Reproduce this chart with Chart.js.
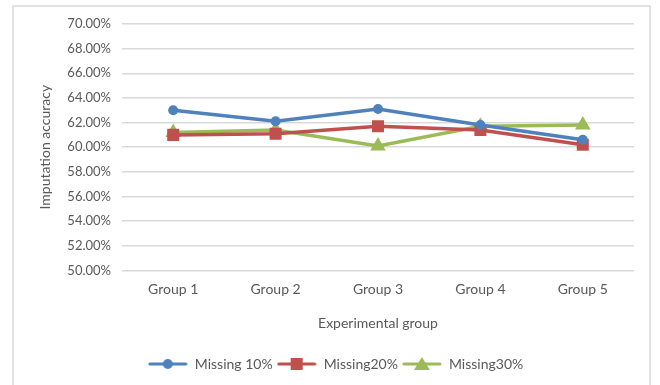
<!DOCTYPE html>
<html>
<head>
<meta charset="utf-8">
<script src="https://cdn.jsdelivr.net/npm/chart.js@4"></script>
<style>
    html, body { margin: 0; padding: 0; background: #ffffff; }
    #wrap { position: relative; width: 660px; height: 385px; }
</style>
</head>
<body>
<div id="wrap"><canvas id="chart" width="660" height="385"></canvas></div>
<script>
// Data
const groups = ['Group 1', 'Group 2', 'Group 3', 'Group 4', 'Group 5'];
const missing10 = [63.0, 62.1, 63.1, 61.8, 60.6];
const missing20 = [61.0, 61.1, 61.7, 61.4, 60.2];
const missing30 = [61.2, 61.4, 60.1, 61.7, 61.8];
const seriesNames = ['Missing 10%', 'Missing20%', 'Missing30%'];

const COLORS = {
    blue: '#4F81BD',
    red: '#C0504D',
    green: '#9BBB59',
    text: '#595959',
    grid: '#D9D9D9'
};
const FONT = 'Lato, "Open Sans", sans-serif';

// legend icon: short line with the marker in the middle, like Excel
function legendIcon(color, style) {
    const c = document.createElement('canvas');
    c.width = 40; c.height = 14;
    const g = c.getContext('2d');
    g.strokeStyle = color;
    g.lineWidth = 3;
    g.lineCap = 'round';
    g.beginPath(); g.moveTo(2, 7); g.lineTo(38, 7); g.stroke();
    g.fillStyle = color;
    g.beginPath();
    if (style === 'circle') {
        g.arc(20, 7, 5, 0, Math.PI * 2);
    } else if (style === 'rect') {
        g.rect(14, 1, 12, 12);
    } else {
        g.moveTo(20, 0); g.lineTo(28, 13); g.lineTo(12, 13); g.closePath();
    }
    g.fill();
    return c;
}

// light grey frame around the chart
const framePlugin = {
    id: 'frame',
    beforeDraw(chart) {
        const ctx = chart.ctx;
        ctx.save();
        ctx.fillStyle = '#ffffff';
        ctx.fillRect(0, 0, chart.width, chart.height);
        ctx.strokeStyle = COLORS.grid;
        ctx.lineWidth = 1.5;
        ctx.strokeRect(13, 6, 637, 420);
        ctx.restore();
    }
};

const styles = ['circle', 'rect', 'triangle'];
const colors = [COLORS.blue, COLORS.red, COLORS.green];
const radii = [5, 8.5, 9];

new Chart(document.getElementById('chart').getContext('2d'), {
    type: 'line',
    data: {
        labels: groups,
        datasets: [missing10, missing20, missing30].map((d, i) => ({
            label: seriesNames[i],
            data: d,
            borderColor: colors[i],
            backgroundColor: colors[i],
            borderWidth: 3.5,
            pointStyle: styles[i],
            pointRadius: radii[i],
            pointBorderWidth: 0,
            tension: 0
        }))
    },
    options: {
        responsive: false,
        animation: false,
        layout: { padding: { left: 37, right: 26, top: 24, bottom: 4 } },
        scales: {
            x: {
                offset: true,
                grid: { display: false, drawTicks: false },
                border: { display: false },
                ticks: { color: COLORS.text, font: { family: FONT, size: 14 }, padding: 11 },
                title: {
                    display: true,
                    text: 'Experimental group',
                    color: COLORS.text,
                    font: { family: FONT, size: 14 },
                    padding: { top: 6, bottom: 21 }
                }
            },
            y: {
                min: 50,
                max: 70,
                grid: { color: COLORS.grid, lineWidth: 1.5, drawTicks: false },
                border: { display: false },
                ticks: {
                    stepSize: 2,
                    color: COLORS.text,
                    font: { family: FONT, size: 13 },
                    padding: 11,
                    callback: v => v.toFixed(2) + '%'
                },
                title: {
                    display: true,
                    text: 'Imputation accuracy',
                    color: COLORS.text,
                    font: { family: FONT, size: 14 },
                    padding: { top: 0, bottom: 6 }
                },
                afterFit(scale) { scale.width = 85; }
            }
        },
        plugins: {
            legend: {
                position: 'bottom',
                labels: {
                    color: COLORS.text,
                    font: { family: FONT, size: 14 },
                    usePointStyle: true,
                    pointStyleWidth: 40,
                    padding: 4,
                    generateLabels(chart) {
                        return chart.data.datasets.map((ds, i) => ({
                            text: ds.label,
                            pointStyle: legendIcon(colors[i], styles[i]),
                            fillStyle: colors[i],
                            strokeStyle: colors[i],
                            lineWidth: 0,
                            fontColor: COLORS.text,
                            datasetIndex: i,
                            hidden: false
                        }));
                    }
                }
            },
            tooltip: { enabled: false }
        }
    },
    plugins: [framePlugin]
});
</script>
</body>
</html>
